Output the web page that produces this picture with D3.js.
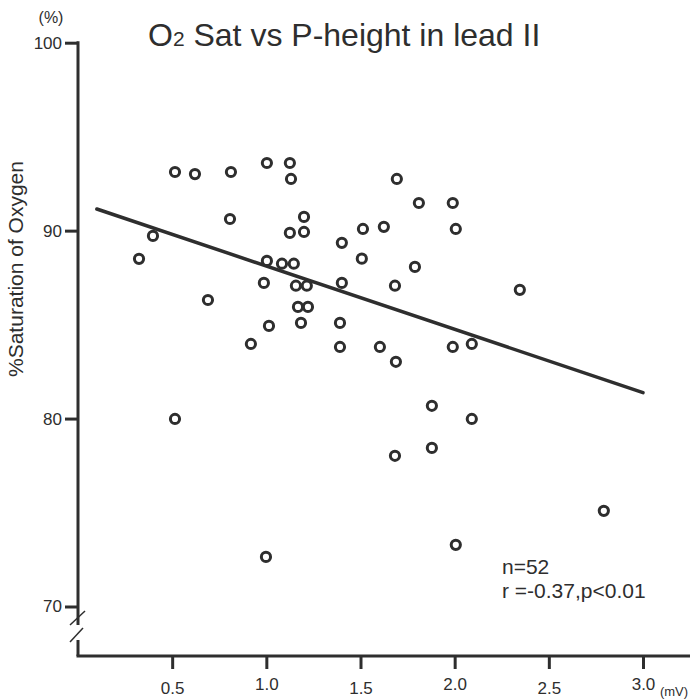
<!DOCTYPE html>
<html>
<head>
<meta charset="utf-8">
<script src="https://cdn.jsdelivr.net/npm/d3@7"></script>
<style>
  html, body { margin: 0; padding: 0; background: #fff; }
  svg { display: block; }
  text { font-family: "Liberation Sans", Arial, Helvetica, sans-serif; fill: #2e2e2e; }
</style>
</head>
<body>
<svg id="chart" width="692" height="699"></svg>
<script>
// ---- data ----
const pHeight = [0.324, 0.398, 0.515, 0.621, 0.690, 0.812, 0.807, 0.515, 0.918, 1.003,
                 1.125, 1.131, 1.200, 1.125, 1.200, 1.003, 1.083, 1.146, 0.987, 1.157,
                 1.215, 1.168, 1.221, 1.014, 1.184, 0.998, 1.401, 1.401, 1.391, 1.391,
                 1.513, 1.507, 1.624, 1.693, 1.683, 1.603, 1.688, 1.683, 1.810, 1.789,
                 1.990, 2.006, 1.990, 2.091, 1.879, 2.091, 1.879, 2.006, 2.346, 2.792];
const o2Sat   = [88.50, 89.72, 93.12, 93.01, 86.31, 93.12, 90.62, 79.98, 83.97, 93.60,
                 93.60, 92.75, 90.73, 89.88, 89.93, 88.39, 88.24, 88.24, 87.22, 87.07,
                 87.07, 85.94, 85.94, 84.93, 85.09, 72.64, 89.35, 87.22, 85.09, 83.81,
                 90.09, 88.51, 90.20, 92.75, 87.07, 83.81, 83.02, 78.02, 91.47, 88.07,
                 91.47, 90.09, 83.81, 83.97, 80.68, 79.98, 78.44, 73.28, 86.85, 75.09];
const fitX = [0.10, 3.00];
const fitY = [91.15, 81.38];
const xTicks = [0.5, 1.0, 1.5, 2.0, 2.5, 3.0];
const yTicks = [70, 80, 90, 100];
const titleMain = "O";
const titleSub = "2";
const titleRest = " Sat vs P-height in lead II";
const yLabel = "%Saturation of Oxygen";
const yUnit = "(%)";
const xUnit = "(mV)";
const statLines = ["n=52", "r =-0.37,p<0.01"];

// ---- chart ----
const ink = "#2e2e2e";
const svg = d3.select("#chart");
const x = d3.scaleLinear().domain([0, 3.0]).range([78, 643]);
const y = d3.scaleLinear().domain([70, 100]).range([606.5, 42.7]);
const axisY0 = 656;

// Title
const t = svg.append("text").attr("x", 148).attr("y", 46).style("font-size", "32px");
t.append("tspan").text(titleMain);
t.append("tspan").style("font-size", "21px").text(titleSub);
t.append("tspan").text(titleRest);

// Y axis (ticks + labels)
const yAxis = d3.axisLeft(y).tickValues(yTicks).tickSize(13).tickPadding(3).tickFormat(d3.format("d"));
const gy = svg.append("g").attr("transform", "translate(78,0)").call(yAxis);
gy.select(".domain").remove();
gy.selectAll(".tick line").attr("stroke", ink).attr("stroke-width", 3);
gy.selectAll(".tick text").style("font-size", "17px").style("fill", ink).attr("font-family", null);

// Y axis line with break
const ax = x(0);
svg.append("line").attr("x1", ax).attr("x2", ax).attr("y1", y(100) - 1.5).attr("y2", 625)
  .attr("stroke", ink).attr("stroke-width", 3);
svg.append("line").attr("x1", ax).attr("x2", ax).attr("y1", 640).attr("y2", axisY0)
  .attr("stroke", ink).attr("stroke-width", 3);
svg.append("line").attr("x1", ax - 8).attr("y1", 625).attr("x2", ax + 7).attr("y2", 611)
  .attr("stroke", ink).attr("stroke-width", 1.5);
svg.append("line").attr("x1", ax - 8).attr("y1", 642).attr("x2", ax + 5).attr("y2", 628)
  .attr("stroke", ink).attr("stroke-width", 1.5);

// X axis
const xAxis = d3.axisBottom(x).tickValues(xTicks).tickSize(13).tickPadding(8).tickFormat(d3.format(".1f"));
const gx = svg.append("g").attr("transform", `translate(0,${axisY0})`).call(xAxis);
gx.select(".domain").remove();
gx.selectAll(".tick line").attr("stroke", ink).attr("stroke-width", 3);
gx.selectAll(".tick text").style("font-size", "17px").style("fill", ink).attr("font-family", null)
  .attr("dy", (d, i) => (i % 2 === 0 ? "1.0em" : "0.76em"));
svg.append("line").attr("x1", ax - 1.5).attr("x2", 690).attr("y1", axisY0).attr("y2", axisY0)
  .attr("stroke", ink).attr("stroke-width", 3);

// Units
svg.append("text").attr("x", 51).attr("y", 23).attr("text-anchor", "middle").style("font-size", "16px").text(yUnit);
svg.append("text").attr("x", 674).attr("y", 696).attr("text-anchor", "middle").style("font-size", "13px").text(xUnit);

// Y label
svg.append("text").attr("transform", `translate(23,${(155 + 383) / 2}) rotate(-90)`)
  .attr("text-anchor", "middle").style("font-size", "21px").text(yLabel);

// Regression line
svg.append("line")
  .attr("x1", x(fitX[0])).attr("y1", y(fitY[0]))
  .attr("x2", x(fitX[1])).attr("y2", y(fitY[1]))
  .attr("stroke", ink).attr("stroke-width", 3.5).attr("stroke-linecap", "round");

// Points
const pts = pHeight.map((v, i) => ({ x: v, y: o2Sat[i] }));
svg.append("g").selectAll("circle").data(pts).join("circle")
  .attr("cx", d => x(d.x)).attr("cy", d => y(d.y)).attr("r", 4.6)
  .attr("fill", "#fff").attr("stroke", ink).attr("stroke-width", 3);

// Stats
svg.append("g").selectAll("text").data(statLines).join("text")
  .attr("x", 502).attr("y", (d, i) => 574 + i * 24).style("font-size", "21px").text(d => d);
</script>
</body>
</html>
